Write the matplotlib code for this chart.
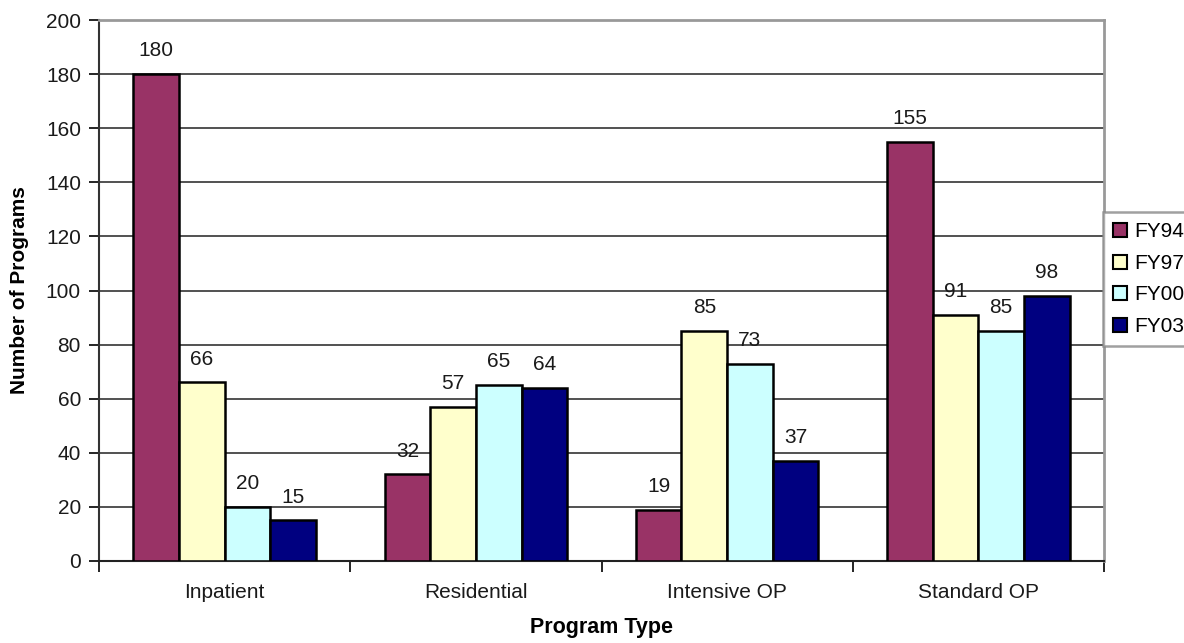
import numpy as np
import matplotlib
matplotlib.use('Agg')
import matplotlib.pyplot as plt
from matplotlib.patches import Patch

plt.rcParams['font.family'] = ['Liberation Sans', 'DejaVu Sans']

program_types = ["Inpatient", "Residential", "Intensive OP", "Standard OP"]
series_names = ["FY94", "FY97", "FY00", "FY03"]
fy94 = [180, 32, 19, 155]
fy97 = [66, 57, 85, 91]
fy00 = [20, 65, 73, 85]
fy03 = [15, 64, 37, 98]
y_ticks = [0, 20, 40, 60, 80, 100, 120, 140, 160, 180, 200]

colors = ["#993366", "#FFFFCC", "#CCFFFF", "#000080"]
text_color = "#1a1a1a"
fs = 15

fig = plt.figure(figsize=(11.84, 6.43), dpi=100)
ax = fig.add_axes([99 / 1184, 1 - 561 / 643, 1005 / 1184, 541 / 643])

x = np.arange(len(program_types))
bar_w = 1 / 5.5
for i, (vals, name) in enumerate(zip([fy94, fy97, fy00, fy03], series_names)):
    pos = x + (i - 1.5) * bar_w
    ax.bar(pos, vals, width=bar_w, color=colors[i], edgecolor="black",
           linewidth=1.8, zorder=3, label=name)
    for px, v in zip(pos, vals):
        ax.annotate(str(v), (px, v), xytext=(0, 10), textcoords="offset points",
                    ha="center", va="bottom", fontsize=fs, color=text_color)

ax.set_xlim(-0.5, len(program_types) - 0.5)
ax.set_ylim(0, 200)
ax.set_yticks(y_ticks)
ax.yaxis.grid(True, color="#222222", linewidth=1.1, zorder=0)
ax.set_axisbelow(True)

# category labels sit between boundary ticks
ax.set_xticks(np.arange(-0.5, len(program_types), 1.0))
ax.set_xticklabels([])
ax.set_xticks(x, minor=True)
ax.set_xticklabels(program_types, minor=True, fontsize=fs, color=text_color)
ax.tick_params(axis="x", which="minor", length=0, pad=16)
ax.tick_params(axis="x", which="major", length=8, width=1.2, direction="out")
ax.tick_params(axis="y", length=7, width=1.2, direction="out", labelsize=fs,
               labelcolor=text_color, pad=6)

for side in ["top", "right"]:
    ax.spines[side].set_color("#999999")
    ax.spines[side].set_linewidth(2)
ax.spines["left"].set_color("#333333")
ax.spines["left"].set_linewidth(1.5)
ax.spines["bottom"].set_color("#222222")
ax.spines["bottom"].set_linewidth(1.5)

ax.set_xlabel("Program Type", fontsize=15.5, fontweight="bold", labelpad=11)
ax.set_ylabel("Number of Programs", fontsize=15, fontweight="bold", labelpad=12)

handles = [Patch(facecolor=c, edgecolor="black", linewidth=1.5) for c in colors]
leg = fig.legend(handles, series_names, loc="upper left",
                 bbox_to_anchor=(1103 / 1184, 1 - 212 / 643),
                 frameon=True, fancybox=False, fontsize=fs,
                 handlelength=0.65, handleheight=0.65, handletextpad=0.35,
                 labelspacing=0.6, borderpad=0.5, borderaxespad=0)
leg.get_frame().set_edgecolor("#888888")
leg.get_frame().set_linewidth(1.8)

fig.savefig("out.png", dpi=100)
